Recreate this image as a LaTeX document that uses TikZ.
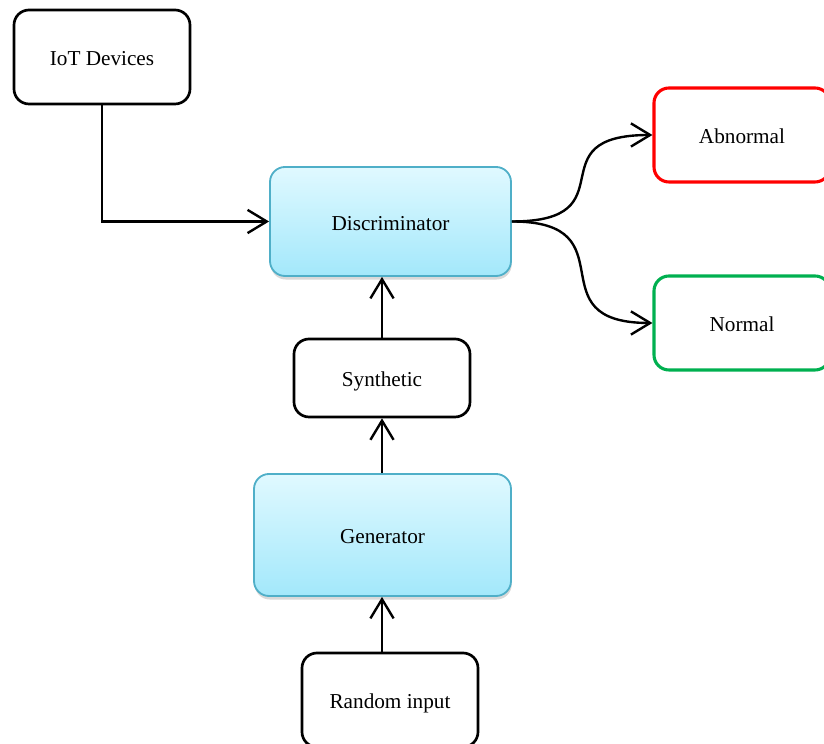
\documentclass[tikz,border=0pt]{standalone}
\usepackage{fontspec}
\setmainfont{Liberation Serif}
\usetikzlibrary{arrows.meta,positioning,shadows,calc}
\definecolor{disctop}{HTML}{E0F9FF}
\definecolor{discbot}{HTML}{A3E8FB}
\definecolor{discline}{HTML}{4FAFC8}
\definecolor{abnred}{HTML}{FF0000}
\definecolor{normgreen}{HTML}{00B050}
\tikzset{
  plainbox/.style={draw=black,line width=1.9pt,rounded corners=0.375cm,
    minimum width=4.4cm,minimum height=2.35cm,align=center,
    text height=0.55cm,text depth=0.1cm,
    font=\fontsize{15.1}{18}\selectfont},
  netbox/.style={draw=discline,line width=1.3pt,rounded corners=0.375cm,
    top color=disctop,bottom color=discbot,align=center,
    text height=0.55cm,text depth=0.1cm,
    font=\fontsize{15.1}{18}\selectfont,
    drop shadow={opacity=0.3,shadow xshift=0.5pt,shadow yshift=-2.5pt}},
  flowarrow/.style={-{Straight Barb[length=0.48cm,width=0.58cm,line width=1.7pt]},line width=1.7pt}
}
\begin{document}
\begin{tikzpicture}
  \useasboundingbox (0,0) rectangle (20.6,18.6);
  % inputs
  \node[plainbox] (iot) at (2.55,17.175) {IoT Devices};
  \node[plainbox] (rand) at (9.75,1.1) {Random input};
  % networks
  \node[netbox,minimum width=6.025cm,minimum height=2.725cm] (disc) at (9.7625,13.0625) {Discriminator};
  \node[netbox,minimum width=6.425cm,minimum height=3.05cm] (gen) at (9.5625,5.225) {Generator};
  \node[plainbox,minimum height=1.95cm] (synth) at (9.55,9.15) {Synthetic};
  % outputs
  \node[plainbox,draw=abnred,line width=2.2pt] (abn) at (18.55,15.225) {Abnormal};
  \node[plainbox,draw=normgreen,line width=2.2pt] (norm) at (18.55,10.525) {Normal};
  % arrows
  \draw[flowarrow] (iot.south) |- (disc.west);
  \draw[flowarrow] (synth.north) -- (synth.north |- disc.south);
  \draw[flowarrow] (gen.north -| synth.south) -- (synth.south);
  \draw[flowarrow] (rand.north -| synth.south) -- (synth.south |- gen.south);
  \draw[flowarrow] (disc.east) .. controls +(3,0) and +(-3,0) .. (abn.west);
  \draw[flowarrow] (disc.east) .. controls +(3,0) and +(-3,0) .. (norm.west);
\end{tikzpicture}
\end{document}
